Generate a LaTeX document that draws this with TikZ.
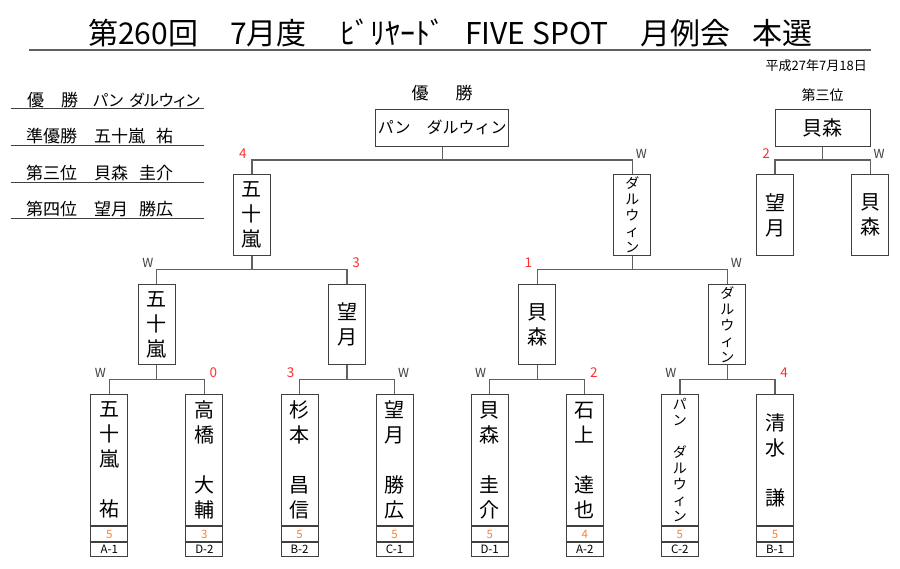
\documentclass[tikz,border=0pt]{standalone}
\usepackage{fontspec}
\setmainfont{Noto Sans CJK JP}
\newfontfamily\jpp[RawFeature=+palt]{Noto Sans CJK JP}
\newcommand\myfs[2]{\fontsize{#1}{#2}\selectfont}
\definecolor{boxc}{HTML}{404040}
\definecolor{linec}{HTML}{606060}
\definecolor{wc}{HTML}{404040}
\definecolor{redc}{HTML}{FF3030}
\definecolor{orangec}{HTML}{FF8030}
\begin{document}
\begin{tikzpicture}[x=1pt,y=-1pt,
  box/.style={draw=boxc, line width=1pt, inner sep=0pt, align=center, minimum width=37pt},
  bn/.style={font=\myfs{20}{25}},
  sn/.style={font=\myfs{14}{16}},
  link/.style={draw=linec, line width=1.2pt},
  wl/.style={font=\myfs{12.5}{12.5}, text=wc, inner sep=0pt},
  rl/.style={font=\myfs{13.5}{13.5}, text=redc, inner sep=0pt},
  score/.style={box, minimum height=15pt, font=\myfs{11.5}{11.5}, text=orangec},
  code/.style={box, minimum height=14pt, font=\myfs{11.5}{11.5}},
  leg/.style={font=\myfs{17}{17}, inner sep=0pt, anchor=base west},
  legn/.style={font=\jpp\myfs{17}{17}, inner sep=0pt, anchor=base west},
  rule/.style={draw=boxc, line width=0.9pt}
]
\useasboundingbox[fill=white] (0,0) rectangle (900,568);

% title
\node[anchor=base west, font=\myfs{30}{30}, inner sep=0pt] (title) at (88,44)
  {\makebox[142pt][l]{第260回}\makebox[110pt][l]{7月度}\makebox[125pt][l]{ﾋﾞﾘﾔｰﾄﾞ}\makebox[175pt][l]{FIVE SPOT}\makebox[112pt][l]{月例会}本選};
\draw[draw=linec, line width=2pt] (29,50) -- (871,50);
\node[anchor=east, font=\myfs{13}{13}, inner sep=0pt] (date) at (867,66) {平成27年7月18日};

% legend
\node[leg] (l1) at (27,106) {優　勝};
\node[legn, font=\jpp\myfs{16}{16}] (n1) at (93,106) {パン\hspace{6pt}ダルウィン};
\node[leg] (l2) at (26,142.5) {準優勝};
\node[legn] (n2) at (94,142.5) {五十嵐\hspace{11pt}祐};
\node[leg] (l3) at (26,179) {第三位};
\node[legn] (n3) at (94,179) {貝森\hspace{11pt}圭介};
\node[leg] (l4) at (26,215.5) {第四位};
\node[legn] (n4) at (94,215.5) {望月\hspace{11pt}勝広};
\draw[rule] (11,108.7) -- (204,108.7);
\draw[rule] (11,145.3) -- (204,145.3);
\draw[rule] (11,182) -- (204,182);
\draw[rule] (11,218.3) -- (204,218.3);

% headings
\node[font=\myfs{17}{17}, inner sep=0pt] (champ) at (442.15,93) {優\hspace{27pt}勝};
\node[font=\myfs{14}{14}, inner sep=0pt] (thirdlab) at (822.55,95) {第三位};

% top boxes
\node[box, minimum width=133pt, minimum height=37pt, font=\myfs{16}{16}] (F) at (442.15,127.5) {パン　ダルウィン};
\node[box, minimum width=95pt, minimum height=37pt, font=\myfs{20}{20}] (T0) at (822.55,127.5) {貝森};

% semis
\node[box, bn, minimum height=81pt, anchor=north] (s0) at (251.95,174) {五\\十\\嵐};
\node[box, sn, minimum height=81pt, anchor=north] (s1) at (632.35,174) {ダ\\ル\\ウ\\ィ\\ン};
\node[box, bn, minimum height=81pt, anchor=north] (t1) at (775.0,174) {望\\月};
\node[box, bn, minimum height=81pt, anchor=north] (t2) at (870.1,174) {貝\\森};

% quarters
\node[box, bn, minimum height=80pt, anchor=north] (q0) at (156.85,284) {五\\十\\嵐};
\node[box, bn, minimum height=80pt, anchor=north] (q1) at (347.05,284) {望\\月};
\node[box, bn, minimum height=80pt, anchor=north] (q2) at (537.25,284) {貝\\森};
\node[box, sn, minimum height=80pt, anchor=north] (q3) at (727.45,284) {ダ\\ル\\ウ\\ィ\\ン};

% first round
\node[box, bn, minimum height=131pt, anchor=north] (b0) at (109.3,394) {五\\十\\嵐\\　\\祐};
\node[box, bn, minimum height=131pt, anchor=north] (b1) at (204.4,394) {高\\橋\\　\\大\\輔};
\node[box, bn, minimum height=131pt, anchor=north] (b2) at (299.5,394) {杉\\本\\　\\昌\\信};
\node[box, bn, minimum height=131pt, anchor=north] (b3) at (394.6,394) {望\\月\\　\\勝\\広};
\node[box, bn, minimum height=131pt, anchor=north] (b4) at (489.7,394) {貝\\森\\　\\圭\\介};
\node[box, bn, minimum height=131pt, anchor=north] (b5) at (584.8,394) {石\\上\\　\\達\\也};
\node[box, sn, minimum height=131pt, anchor=north] (b6) at (679.9,394) {パ\\ン\\　\\ダ\\ル\\ウ\\ィ\\ン};
\node[box, bn, minimum height=131pt, anchor=north] (b7) at (775.0,394) {清\\水\\　\\謙};

\foreach \i/\s/\c in {0/5/A-1,1/3/D-2,2/5/B-2,3/5/C-1,4/5/D-1,5/4/A-2,6/5/C-2,7/5/B-1}{
  \node[score, anchor=north] (b\i s) at (b\i.south) {\s};
  \node[code, anchor=north] (b\i c) at (b\i s.south) {\c};
}

% junctions
\coordinate (jF) at (442.15,160);
\coordinate (jT) at (822.55,160);
\coordinate (jS0) at (251.95,269.3);
\coordinate (jS1) at (632.35,269.3);
\coordinate (jQ0) at (156.85,379.3);
\coordinate (jQ1) at (347.05,379.3);
\coordinate (jQ2) at (537.25,379.3);
\coordinate (jQ3) at (727.45,379.3);

\draw[link] (s0.north) |- (jF) -| (s1.north);  \draw[link] (F.south) -- (jF);
\draw[link] (t1.north) |- (jT) -| (t2.north);  \draw[link] (T0.south) -- (jT);
\draw[link] (q0.north) |- (jS0) -| (q1.north); \draw[link] (s0.south) -- (jS0);
\draw[link] (q2.north) |- (jS1) -| (q3.north); \draw[link] (s1.south) -- (jS1);
\draw[link] (b0.north) |- (jQ0) -| (b1.north); \draw[link] (q0.south) -- (jQ0);
\draw[link] (b2.north) |- (jQ1) -| (b3.north); \draw[link] (q1.south) -- (jQ1);
\draw[link] (b4.north) |- (jQ2) -| (b5.north); \draw[link] (q2.south) -- (jQ2);
\draw[link] (b6.north) |- (jQ3) -| (b7.north); \draw[link] (q3.south) -- (jQ3);

% result labels
\node[rl] (r1) at (242.95,153.5) {4};
\node[wl] (r2) at (641.35,153.5) {W};
\node[rl] (r3) at (766,153.5) {2};
\node[wl] (r4) at (879.1,153.5) {W};
\node[wl] (r5) at (147.85,262.8) {W};
\node[rl] (r6) at (356.05,262.8) {3};
\node[rl] (r7) at (528.25,262.8) {1};
\node[wl] (r8) at (736.45,262.8) {W};
\node[wl] (r9) at (100.3,372.8) {W};
\node[rl] (r10) at (213.4,372.8) {0};
\node[rl] (r11) at (290.5,372.8) {3};
\node[wl] (r12) at (403.6,372.8) {W};
\node[wl] (r13) at (480.7,372.8) {W};
\node[rl] (r14) at (593.8,372.8) {2};
\node[wl] (r15) at (670.9,372.8) {W};
\node[rl] (r16) at (784,372.8) {4};
\end{tikzpicture}
\end{document}
